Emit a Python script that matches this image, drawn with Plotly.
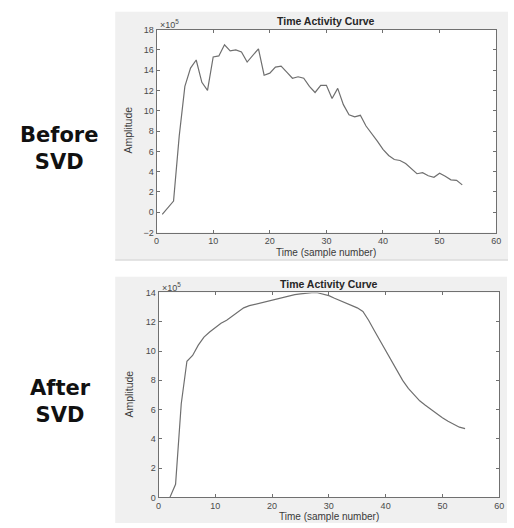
import plotly.graph_objects as go

# ---------------- data (amplitude in units of 1e5) ----------------
time_before = list(range(1, 55))
amp_before = [-0.2, 0.4, 1.1, 7.5, 12.4, 14.2, 15.0, 12.8, 12.0, 15.3,
              15.4, 16.5, 15.9, 16.0, 15.8, 14.8, 15.45, 16.1, 13.5, 13.7,
              14.3, 14.4, 13.8, 13.2, 13.35, 13.2, 12.4, 11.8, 12.5, 12.5,
              11.2, 12.2, 10.6, 9.6, 9.4, 9.55, 8.5, 7.8, 7.0, 6.2,
              5.6, 5.2, 5.1, 4.8, 4.3, 3.8, 3.9, 3.6, 3.45, 3.85,
              3.55, 3.2, 3.15, 2.7]

time_after = list(range(1, 55))
amp_after = [-0.3, 0.0, 0.9, 6.4, 9.3, 9.7, 10.4, 10.95, 11.3, 11.6,
             11.9, 12.1, 12.4, 12.7, 12.95, 13.1, 13.2, 13.3, 13.4, 13.5,
             13.6, 13.7, 13.8, 13.85, 13.9, 13.95, 13.98, 13.98, 13.9, 13.78,
             13.6, 13.45, 13.3, 13.1, 12.95, 12.7, 12.1, 11.4, 10.7, 10.0,
             9.3, 8.6, 8.0, 7.45, 7.0, 6.6, 6.3, 6.0, 5.7, 5.45,
             5.2, 5.0, 4.8, 4.7]

x_ticks = [0, 10, 20, 30, 40, 50, 60]
y_ticks_before = list(range(-2, 19, 2))
y_ticks_after = list(range(0, 15, 2))

chart_title = "Time Activity Curve"
x_title = "Time (sample number)"
y_title = "Amplitude"
exp_label = "×10<sup>5</sup>"
row_labels = ["Before<br>SVD", "After<br>SVD"]

# ---------------- layout helpers ----------------
W, H = 514, 528
def px(x):
    return x / W
def py(y):
    return 1 - y / H

LINE = "#6f6f6f"
AX = "#707070"
TXT = "#3a3a3a"
FONT = "Liberation Sans, Arial, sans-serif"

fig = go.Figure()
fig.add_trace(go.Scatter(x=time_before, y=amp_before, mode="lines",
                         line=dict(color=LINE, width=1.2),
                         xaxis="x", yaxis="y", showlegend=False,
                         hoverinfo="skip"))
fig.add_trace(go.Scatter(x=time_after, y=amp_after, mode="lines",
                         line=dict(color=LINE, width=1.2),
                         xaxis="x2", yaxis="y2", showlegend=False,
                         hoverinfo="skip"))

def axis_common(tickvals, rng, domain, anchor):
    return dict(range=rng, domain=domain, anchor=anchor,
                tickvals=tickvals, ticks="inside", ticklen=3,
                tickcolor=AX, showline=True, linecolor=AX, linewidth=1,
                mirror="ticks", showgrid=False, zeroline=False,
                tickfont=dict(family=FONT, size=9, color="#4a4a4a"),
                fixedrange=True)

# top panel axes: x 156-501, y 25-232
# bottom panel axes: x 158-504, y 293-502
fig.update_layout(
    width=W, height=H,
    margin=dict(l=0, r=0, t=0, b=0),
    paper_bgcolor="white",
    plot_bgcolor="white",
    xaxis=axis_common(x_ticks, [0, 60], [px(156), px(501)], "y"),
    yaxis=axis_common(y_ticks_before, [-2, 18], [py(232), py(25)], "x"),
    xaxis2=axis_common(x_ticks, [0, 60], [px(158), px(504)], "y2"),
    yaxis2=axis_common(y_ticks_after, [0, 14], [py(502), py(293)], "x2"),
)

# grey figure backgrounds
fig.add_shape(type="rect", xref="paper", yref="paper", layer="below",
              x0=px(114), x1=px(513), y0=py(260), y1=py(7),
              fillcolor="#f0f0f0", line=dict(width=0))
fig.add_shape(type="line", xref="paper", yref="paper", layer="below",
              x0=px(114), x1=px(513), y0=py(260), y1=py(260),
              line=dict(color="#cfcfcf", width=1))
fig.add_shape(type="rect", xref="paper", yref="paper", layer="below",
              x0=px(114), x1=px(512), y0=py(528), y1=py(277),
              fillcolor="#f0f0f0", line=dict(width=0))
# white plotting areas
fig.add_shape(type="rect", xref="paper", yref="paper", layer="below",
              x0=px(156), x1=px(501), y0=py(232), y1=py(25),
              fillcolor="white", line=dict(width=0))
fig.add_shape(type="rect", xref="paper", yref="paper", layer="below",
              x0=px(158), x1=px(504), y0=py(502), y1=py(293),
              fillcolor="white", line=dict(width=0))

def text(x, y, s, size, color=TXT, angle=0, family=FONT, xanchor="center", yanchor="middle"):
    fig.add_annotation(x=px(x), y=py(y), xref="paper", yref="paper",
                       text=s, showarrow=False, textangle=angle,
                       xanchor=xanchor, yanchor=yanchor,
                       font=dict(family=family, size=size, color=color))

# top panel texts
text(328, 16, "<b>" + chart_title + "</b>", 10.5, color="#262626")
text(328, 252, x_title, 10)
text(127, 128, y_title, 10.5, angle=-90)
text(157, 19, exp_label, 9, color="#4a4a4a", xanchor="left")

# bottom panel texts
text(331, 284, "<b>" + chart_title + "</b>", 10.5, color="#262626")
text(331, 521, x_title, 10)
text(128, 397, y_title, 10.5, angle=-90)
text(159, 287, exp_label, 9, color="#4a4a4a", xanchor="left")

# row labels
text(57, 146, "<b>" + row_labels[0] + "</b>", 21, color="#111111",
     family="DejaVu Sans, sans-serif")
text(58, 404, "<b>" + row_labels[1] + "</b>", 21, color="#111111",
     family="DejaVu Sans, sans-serif")

fig.write_html("out.html",
               config={"displayModeBar": False},
               post_script="document.body.style.margin='0';"
                           "document.body.style.overflow='hidden';")
